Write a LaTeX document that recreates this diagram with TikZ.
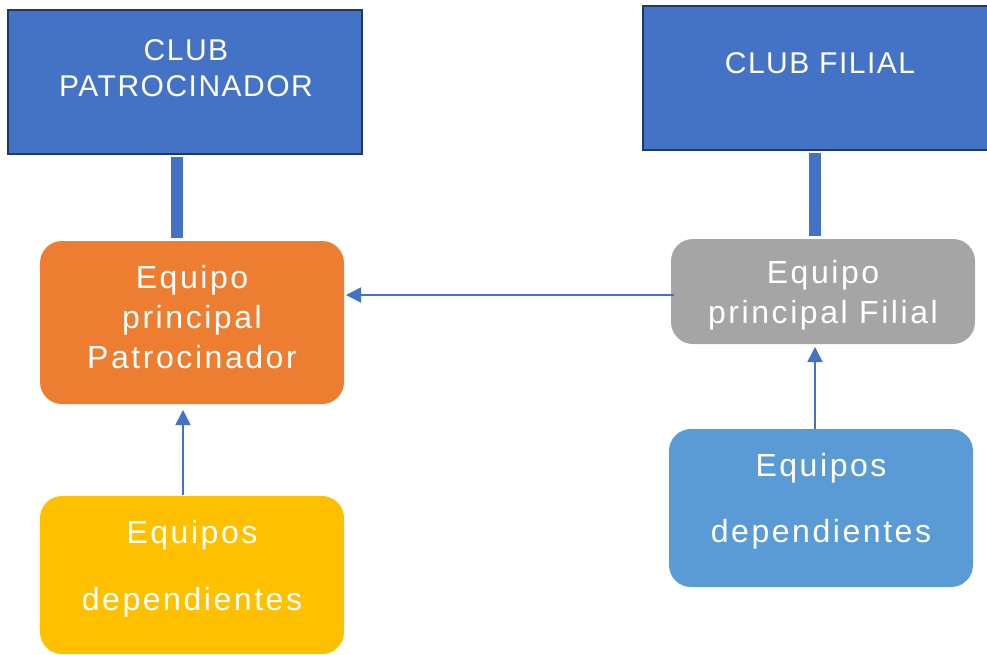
\documentclass[tikz,border=0pt]{standalone}
\usepackage{fontspec}
\setmainfont[LetterSpace=5]{Liberation Sans}
\newfontfamily\bodyfont[LetterSpace=8]{Liberation Sans}
\usetikzlibrary{arrows.meta}
\definecolor{clubblue}{HTML}{4472C4}
\definecolor{clubborder}{HTML}{1F3864}
\definecolor{orangebox}{HTML}{ED7D31}
\definecolor{graybox}{HTML}{A5A5A5}
\definecolor{yellowbox}{HTML}{FFC000}
\definecolor{lightbluebox}{HTML}{5B9BD5}
\tikzset{
  clubbox/.style={draw=clubborder, line width=2.5pt, fill=clubblue, minimum width=#1, inner sep=0pt},
  teambox/.style={fill=#1, rounded corners=22pt, minimum width=304pt, inner sep=0pt, outer sep=0pt},
  headtxt/.style={text=white, font=\fontsize{30}{36}\selectfont, align=center, inner sep=0pt},
  bodytxt/.style={text=white, font=\bodyfont\fontsize{32}{40}\selectfont, align=center, inner sep=0pt},
  bar/.style={draw=clubblue, line width=12pt},
  link/.style={draw=clubblue, line width=1.5pt, -{Triangle[length=15pt,width=15pt]}}
}
\begin{document}
\begin{tikzpicture}[x=1pt,y=-1pt]
\useasboundingbox (0,0) rectangle (987,654);
% club boxes
\node[clubbox=354pt, minimum height=144pt] (p1) at (185,82) {};
\node[clubbox=346pt, minimum height=144pt] (f1) at (816,78) {};
\node[headtxt] (p1t) at (186,68.5) {CLUB\\PATROCINADOR};
\node[headtxt] (f1t) at (820,63.5) {CLUB FILIAL};
% team boxes
\node[teambox=orangebox, minimum height=163pt] (op) at (192,322.5) {};
\node[teambox=graybox, minimum height=105pt] (gf) at (823,291.5) {};
\node[teambox=yellowbox, minimum height=158pt] (yd) at (192,575) {};
\node[teambox=lightbluebox, minimum height=158pt] (bd) at (821,508) {};
\node[bodytxt] (opt) at (192,317) {Equipo\\principal\\Patrocinador};
\node[bodytxt] (gft) at (823,295.5) {Equipo\\principal Filial};
\node[bodytxt, font=\bodyfont\fontsize{32}{67}\selectfont] (ydt) at (192,569) {Equipos\\dependientes};
\node[bodytxt, font=\bodyfont\fontsize{32}{66}\selectfont] (bdt) at (821,501) {Equipos\\dependientes};
% bars
\draw[bar, shorten <=2pt, shorten >=3pt] ([xshift=-8pt]p1.south) -- ([xshift=-15pt]op.north);
\draw[bar, shorten <=2pt, shorten >=3pt] ([xshift=-1pt]f1.south) -- ([xshift=-8pt]gf.north);
% arrows
\draw[link, shorten <=-3pt, shorten >=2pt] ([yshift=-3.5pt]gf.west) -- ([yshift=27.5pt]op.east);
\draw[link, shorten <=1pt, shorten >=6pt] ([xshift=-9pt]yd.north) -- ([xshift=-9pt]op.south);
\draw[link, shorten >=3pt] ([xshift=-6pt]bd.north) -- ([xshift=-8pt]gf.south);
\end{tikzpicture}
\end{document}
